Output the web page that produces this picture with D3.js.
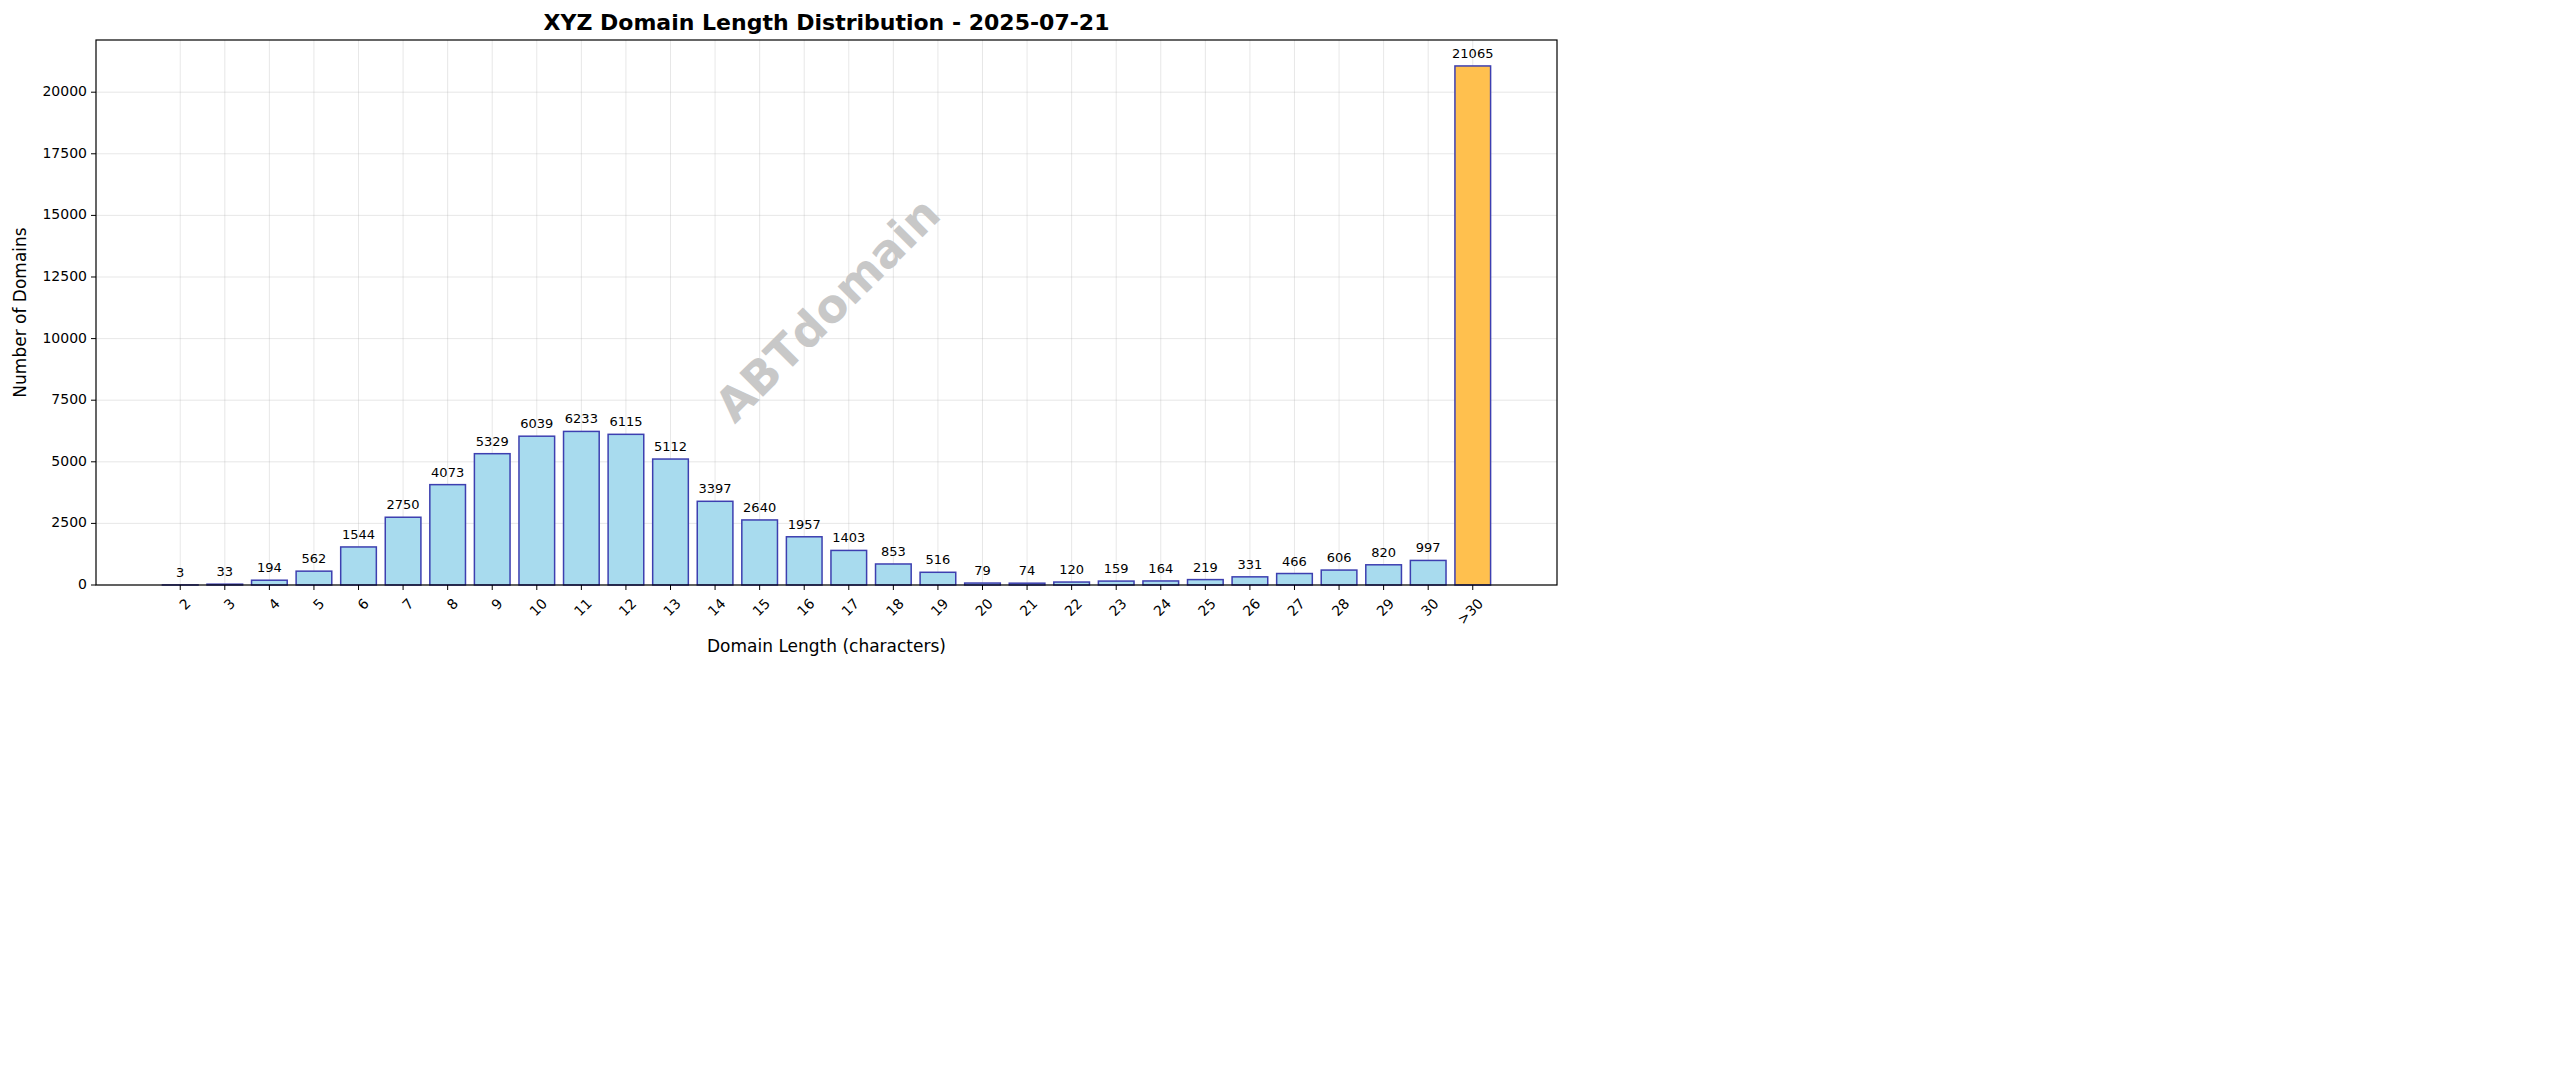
<!DOCTYPE html>
<html>
<head>
<meta charset="utf-8">
<script src="https://cdn.jsdelivr.net/npm/d3@7"></script>
<style>
  body { margin: 0; background: #fff; }
  text { font-family: "DejaVu Sans", sans-serif; }
</style>
</head>
<body>
<svg id="chart" width="2560" height="1087"></svg>
<script>
var categories = ['2','3','4','5','6','7','8','9','10','11','12','13','14','15','16','17','18','19','20','21','22','23','24','25','26','27','28','29','30','>30'];
var counts = [3,33,194,562,1544,2750,4073,5329,6039,6233,6115,5112,3397,2640,1957,1403,853,516,79,74,120,159,164,219,331,466,606,820,997,21065];
var yTicks = [0,2500,5000,7500,10000,12500,15000,17500,20000];

(function() {
var svg = d3.select('#chart'),
    pLeft = 96, pRight = 1557, pTop = 40, pBottom = 585;

var n = categories.length;
var pad = 0.05 * (n - 1 + 0.8) + 0.4;
var x = d3.scaleLinear().domain([-pad, n - 1 + pad]).range([pLeft, pRight]);
var y = d3.scaleLinear().domain([0, 21065 * 1.05]).range([pBottom, pTop]);
var bw = x(0.8) - x(0);

// grid
svg.append('g').selectAll('line').data(categories).enter().append('line')
    .attr('x1', function(d, i) { return x(i); }).attr('x2', function(d, i) { return x(i); })
    .attr('y1', pTop).attr('y2', pBottom)
    .attr('stroke', '#b0b0b0').attr('stroke-opacity', 0.3).attr('stroke-width', 1);
svg.append('g').selectAll('line').data(yTicks).enter().append('line')
    .attr('x1', pLeft).attr('x2', pRight)
    .attr('y1', function(d) { return y(d); }).attr('y2', function(d) { return y(d); })
    .attr('stroke', '#b0b0b0').attr('stroke-opacity', 0.3).attr('stroke-width', 1);

// watermark
svg.append('text')
    .attr('transform', 'translate(830,312) rotate(-45)')
    .attr('text-anchor', 'middle').attr('dominant-baseline', 'middle')
    .attr('font-size', 46).attr('font-weight', 'bold')
    .attr('fill', '#c8c8c8')
    .text('ABTdomain');

// bars
svg.append('g').selectAll('rect').data(counts).enter().append('rect')
    .attr('x', function(d, i) { return x(i) - bw / 2; })
    .attr('y', function(d) { return y(d); })
    .attr('width', bw)
    .attr('height', function(d) { return pBottom - y(d); })
    .attr('fill', function(d, i) { return categories[i] === '>30' ? '#ffc04e' : '#a8dbee'; })
    .attr('stroke', '#3d3fb0').attr('stroke-width', 1.5);

// value labels
svg.append('g').selectAll('text').data(counts).enter().append('text')
    .attr('x', function(d, i) { return x(i); })
    .attr('y', function(d) { return y(d) - 8; })
    .attr('text-anchor', 'middle').attr('font-size', 13)
    .text(function(d) { return d; });

// frame
svg.append('rect').attr('x', pLeft).attr('y', pTop)
    .attr('width', pRight - pLeft).attr('height', pBottom - pTop)
    .attr('fill', 'none').attr('stroke', '#000').attr('stroke-width', 1.2);

// y axis
var ya = svg.append('g');
ya.selectAll('line').data(yTicks).enter().append('line')
    .attr('x1', pLeft - 5).attr('x2', pLeft)
    .attr('y1', function(d) { return y(d); }).attr('y2', function(d) { return y(d); })
    .attr('stroke', '#000');
ya.selectAll('text').data(yTicks).enter().append('text')
    .attr('x', pLeft - 9).attr('y', function(d) { return y(d); })
    .attr('text-anchor', 'end').attr('dominant-baseline', 'middle').attr('font-size', 14)
    .text(function(d) { return d; });

// x axis
var xa = svg.append('g');
xa.selectAll('line').data(categories).enter().append('line')
    .attr('x1', function(d, i) { return x(i); }).attr('x2', function(d, i) { return x(i); })
    .attr('y1', pBottom).attr('y2', pBottom + 5).attr('stroke', '#000');
xa.selectAll('text').data(categories).enter().append('text')
    .attr('transform', function(d, i) { return 'translate(' + (x(i) + 4) + ',' + (pBottom + 12) + ') rotate(-45)'; })
    .attr('text-anchor', 'end').attr('dominant-baseline', 'hanging').attr('font-size', 14)
    .text(function(d) { return d; });

// titles
svg.append('text').attr('x', (pLeft + pRight) / 2).attr('y', 30)
    .attr('text-anchor', 'middle').attr('font-size', 22).attr('font-weight', 'bold')
    .text('XYZ Domain Length Distribution - 2025-07-21');
svg.append('text').attr('x', (pLeft + pRight) / 2).attr('y', 652)
    .attr('text-anchor', 'middle').attr('font-size', 17)
    .text('Domain Length (characters)');
svg.append('text').attr('transform', 'translate(26,' + ((pTop + pBottom) / 2) + ') rotate(-90)')
    .attr('text-anchor', 'middle').attr('font-size', 17)
    .text('Number of Domains');
})();
</script>
</body>
</html>
